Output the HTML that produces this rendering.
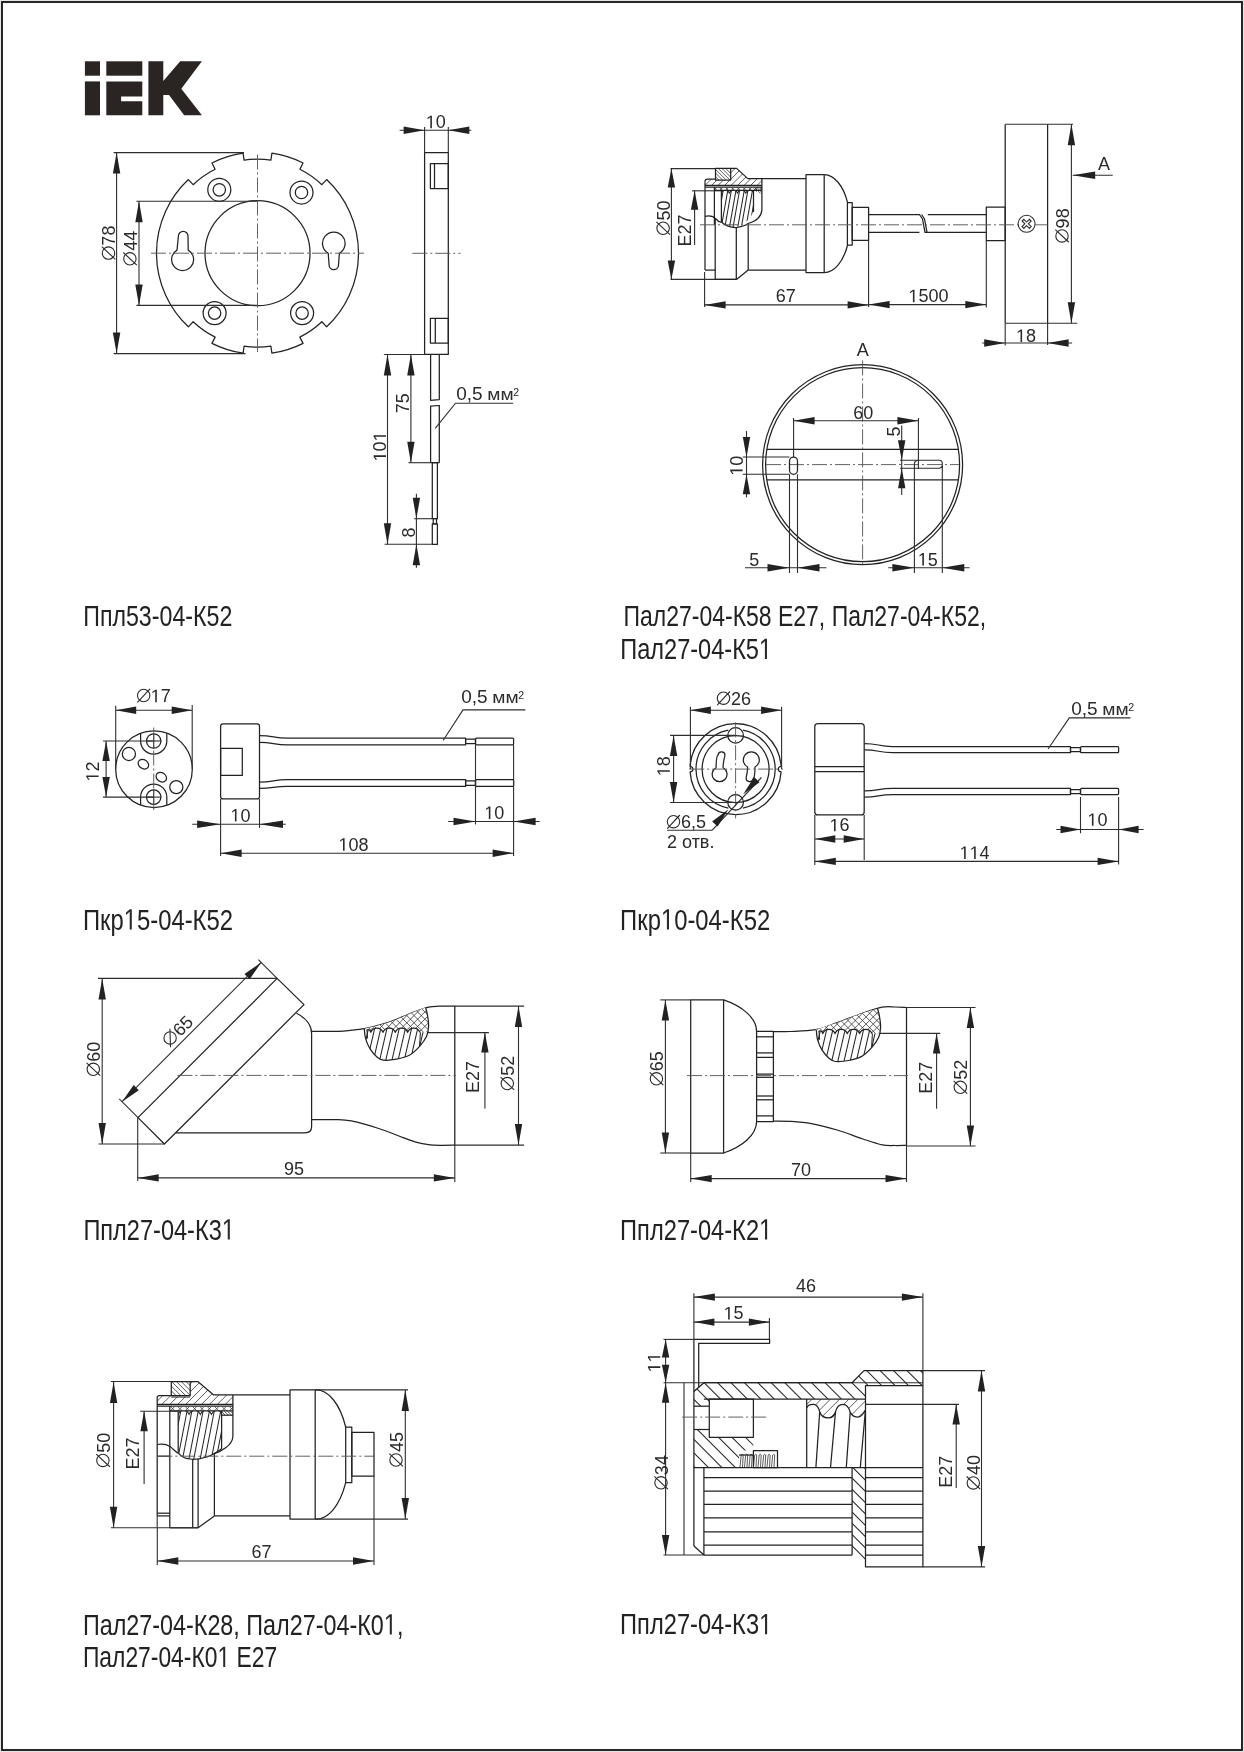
<!DOCTYPE html>
<html><head><meta charset="utf-8"><style>
html,body{margin:0;padding:0;background:#fff;}
body{width:1244px;height:1752px;overflow:hidden;position:relative;}
svg{position:absolute;left:0;top:0;will-change:transform;}
.o{fill:none;stroke:#222;stroke-width:1.25;stroke-linejoin:round;}
.d{fill:none;stroke:#2e2e2e;stroke-width:1.1;}
.c{fill:none;stroke:#5a5a5a;stroke-width:0.95;stroke-dasharray:15 3 2 3;}
.h{fill:none;stroke:#333;stroke-width:0.8;}
.ar{fill:#222;stroke:none;}
.ds{fill:none;stroke:#2a2a2a;stroke-width:1.1;}
.th{fill:none;stroke:#262626;stroke-width:1.05;}
.tf{fill:#2a2a2a;stroke:none;}
.t{fill:#2a2a2a;font-family:"Liberation Sans",sans-serif;}
.lab{fill:#222;font-family:"Liberation Sans",sans-serif;}
</style></head><body>
<svg width="1244" height="1752" viewBox="0 0 1244 1752">
<rect x="0" y="0" width="1244" height="1752" fill="#e4e4e4"/>
<rect x="1" y="1" width="1242" height="1750" fill="#fff"/>
<rect x="2" y="2" width="1240" height="1748" fill="none" stroke="#1c1c1c" stroke-width="1.9"/>
<g fill="#2a2523">
<rect x="84.9" y="61.3" width="15.1" height="14.4"/>
<rect x="84.9" y="81.4" width="15.1" height="33.9"/>
<rect x="106.3" y="61.3" width="36" height="14.4"/>
<path d="M106.3,81.4 H142.3 V96.4 H121.1 V101.2 H142.3 V115.3 H106.3 Z"/>
<path d="M148.4,61.3 H163.3 V81 L180.2,61.3 H201.9 L181.3,88.8 L201.9,115.3 H184.2 L169,95 H163.3 V115.3 H148.4 Z"/>
</g>
<path class="o" d="M326.64,179.57 L321.85,184.68 A94,94 0 0 0 299.88,169.3 L303.04,163.05 A101,101 0 0 0 271.91,153.23 L270.91,160.16 A94,94 0 0 0 244.09,160.16 L243.09,153.23 A101,101 0 0 0 211.96,163.05 L215.12,169.3 A94,94 0 0 0 193.15,184.68 L188.36,179.57 A101,101 0 0 0 188.36,326.83 L193.15,321.72 A94,94 0 0 0 215.12,337.1 L211.96,343.35 A101,101 0 0 0 243.09,353.17 L244.09,346.24 A94,94 0 0 0 270.91,346.24 L271.91,353.17 A101,101 0 0 0 303.04,343.35 L299.88,337.1 A94,94 0 0 0 321.85,321.72 L326.64,326.83 A101,101 0 0 0 326.64,179.57 Z"/>
<circle class="o" cx="257.5" cy="253.2" r="52.5"/>
<circle class="o" cx="219.3" cy="189.8" r="11.5"/>
<circle class="o" cx="219.3" cy="189.8" r="6.2"/>
<circle class="o" cx="301.5" cy="192.5" r="11.5"/>
<circle class="o" cx="301.5" cy="192.5" r="6.2"/>
<circle class="o" cx="214.6" cy="313.1" r="11.5"/>
<circle class="o" cx="214.6" cy="313.1" r="6.2"/>
<circle class="o" cx="302.1" cy="313.1" r="11.5"/>
<circle class="o" cx="302.1" cy="313.1" r="6.2"/>
<path class="o" d="M177,250.13 L178.4,236.2 A4.8,4.8 0 0 1 188,236.2 L188.2,250.13 A11,11 0 1 1 177,250.13 Z"/>
<path class="o" d="M339.4,253.21 L338.5,265.0 A4.7,4.7 0 0 1 329.1,265.0 L328.2,253.21 A11.3,11.3 0 1 1 339.4,253.21 Z"/>
<line class="c" x1="151" y1="253.2" x2="364" y2="253.2"/>
<line class="c" x1="257.5" y1="154.5" x2="257.5" y2="352"/>
<line class="d" x1="113.6" y1="152.6" x2="244" y2="152.6"/>
<line class="d" x1="113.6" y1="353.6" x2="245.5" y2="353.6"/>
<line class="d" x1="116.6" y1="152.6" x2="116.6" y2="353.6"/>
<polygon class="ar" points="116.6,152.6 120.3,173.6 112.9,173.6"/>
<polygon class="ar" points="116.6,353.6 112.9,332.6 120.3,332.6"/>
<line class="d" x1="136.4" y1="201.2" x2="257" y2="201.2"/>
<line class="d" x1="136.4" y1="305.4" x2="257" y2="305.4"/>
<line class="d" x1="139" y1="201.2" x2="139" y2="305.4"/>
<polygon class="ar" points="139,201.2 142.7,222.2 135.3,222.2"/>
<polygon class="ar" points="139,305.4 135.3,284.4 142.7,284.4"/>
<g transform="translate(115.2,243) rotate(-90)">
<circle class="ds" cx="-10.11" cy="-6.7" r="6.2"/>
<line class="ds" x1="-16.41" y1="0.2" x2="-3.71" y2="-13.4"/>
<text class="t" x="-2.63" y="0" font-size="18">78</text>
</g>
<g transform="translate(136.6,248.3) rotate(-90)">
<circle class="ds" cx="-10.49" cy="-6.7" r="6.2"/>
<line class="ds" x1="-16.79" y1="0.2" x2="-4.09" y2="-13.4"/>
<text class="t" x="-2.5" y="0" font-size="18">44</text>
</g>
<rect class="o" x="424.6" y="152.5" width="23.7" height="201.9"/>
<rect class="o" x="430.4" y="163.6" width="17.9" height="24.9"/>
<line class="o" x1="434.5" y1="163.6" x2="434.5" y2="188.5"/>
<rect class="o" x="430.4" y="318.3" width="17.9" height="24.8"/>
<line class="o" x1="435.3" y1="318.3" x2="435.3" y2="343.1"/>
<line class="c" x1="412.3" y1="253.3" x2="460.5" y2="253.3"/>
<line class="d" x1="424.6" y1="127" x2="424.6" y2="152.5"/>
<line class="d" x1="448.3" y1="127" x2="448.3" y2="152.5"/>
<line class="d" x1="399.6" y1="130.2" x2="471.3" y2="130.2"/>
<polygon class="ar" points="424.6,130.2 403.6,133.9 403.6,126.5"/>
<polygon class="ar" points="448.3,130.2 469.3,126.5 469.3,133.9"/>
<g transform="translate(435.8,128.2) rotate(0)"><path class="tf" d="M-5.48,0 L-5.48,-10.87 L-8.28,-8.88 L-8.28,-10.37 L-5.35,-12.38 L-3.89,-12.38 L-3.89,0 Z"/><text class="t" x="0" y="0" font-size="18">0</text></g>
<polyline class="o" points="430.6,354.4 430.6,400.3 439.3,399.6 439.3,354.4"/>
<polyline class="o" points="430.6,462.7 430.6,406.2 439.3,405.5 439.3,462.7"/>
<line class="o" x1="430.6" y1="462.7" x2="439.3" y2="462.7"/>
<rect class="o" x="432.3" y="462.7" width="5.1" height="56"/>
<rect class="o" x="433.2" y="518.7" width="3.3" height="5.1"/>
<rect class="o" x="432.3" y="523.8" width="5.1" height="20.5"/>
<line class="d" x1="383.9" y1="354.5" x2="424.6" y2="354.5"/>
<line class="d" x1="387.5" y1="354.5" x2="387.5" y2="544.3"/>
<polygon class="ar" points="387.5,354.5 391.2,375.5 383.8,375.5"/>
<polygon class="ar" points="387.5,544.3 383.8,523.3 391.2,523.3"/>
<line class="d" x1="384.6" y1="544.3" x2="432.3" y2="544.3"/>
<line class="d" x1="410.9" y1="354.5" x2="410.9" y2="462.7"/>
<polygon class="ar" points="410.9,354.5 414.6,375.5 407.2,375.5"/>
<polygon class="ar" points="410.9,462.7 407.2,441.7 414.6,441.7"/>
<line class="d" x1="408.5" y1="462.7" x2="430.6" y2="462.7"/>
<line class="d" x1="414.3" y1="518.7" x2="432.3" y2="518.7"/>
<line class="d" x1="416.4" y1="493.7" x2="416.4" y2="567.8"/>
<polygon class="ar" points="416.4,518.7 412.7,497.7 420.1,497.7"/>
<polygon class="ar" points="416.4,544.3 420.1,565.3 412.7,565.3"/>
<g transform="translate(386,446.4) rotate(-90)"><path class="tf" d="M-10.49,0 L-10.49,-10.87 L-13.28,-8.88 L-13.28,-10.37 L-10.36,-12.38 L-8.9,-12.38 L-8.9,0 Z"/><text class="t" x="-5.01" y="0" font-size="18">0</text><path class="tf" d="M9.53,0 L9.53,-10.87 L6.74,-8.88 L6.74,-10.37 L9.66,-12.38 L11.12,-12.38 L11.12,0 Z"/></g>
<text class="t" transform="translate(408.5,403.3) rotate(-90)" font-size="18" text-anchor="middle">75</text>
<text class="t" transform="translate(414.7,532.4) rotate(-90)" font-size="18" text-anchor="middle">8</text>
<polyline class="d" points="435.2,428.3 455.5,403.2 513.1,403.2"/>
<text class="t" x="456.26" y="399.7" font-size="19">0,5</text>
<text class="t" transform="translate(487.27,399.7) scale(1.1,1)" font-size="17.4">мм</text>
<text class="t" x="513.3" y="395.6" font-size="10.5">2</text>
<line class="d" x1="670.5" y1="168.6" x2="715.5" y2="168.6"/>
<line class="d" x1="670.5" y1="279.4" x2="736.5" y2="279.4"/>
<line class="d" x1="671.4" y1="168.6" x2="671.4" y2="279.4"/>
<polygon class="ar" points="671.4,168.6 675.1,187.6 667.7,187.6"/>
<polygon class="ar" points="671.4,279.4 667.7,260.4 675.1,260.4"/>
<line class="d" x1="692" y1="190.8" x2="721.4" y2="190.8"/>
<line class="d" x1="694.6" y1="190.8" x2="694.6" y2="245"/>
<polygon class="ar" points="694.6,190.8 698.3,209.8 690.9,209.8"/>
<g transform="translate(669.8,218) rotate(-90)">
<circle class="ds" cx="-10.25" cy="-6.7" r="6.2"/>
<line class="ds" x1="-16.55" y1="0.2" x2="-3.85" y2="-13.4"/>
<text class="t" x="-2.57" y="0" font-size="18">50</text>
</g>
<text class="t" transform="translate(691.2,230.5) rotate(-90)" font-size="18" text-anchor="middle">E27</text>
<clipPath id="h2a"><path d="M705,185.4 L705,181.5 Q705,179.1 707.5,179.1 L715.5,179.1 L715.5,180 L730.7,180 L730.7,168.4 L736.6,168.4 L747.8,178.6 L761.9,178.6 L761.9,185.4 Z"/></clipPath>
<g clip-path="url(#h2a)">
<path class="h" d="M680.43,177.5L732.5,125.43M683.68,180.75L735.75,128.68M686.93,184.01L739.01,131.93M690.19,187.26L742.26,135.19M693.44,190.51L745.51,138.44M696.69,193.76L748.76,141.69M699.94,197.02L752.02,144.94M703.2,200.27L755.27,148.2M706.45,203.52L758.52,151.45M709.7,206.77L761.77,154.7M712.95,210.03L765.03,157.95M716.21,213.28L768.28,161.21M719.46,216.53L771.53,164.46M722.71,219.78L774.78,167.71M725.96,223.04L778.04,170.96M729.22,226.29L781.29,174.22M732.47,229.54L784.54,177.47"/>
</g>
<clipPath id="h2b"><path d="M715.5,168.4 L730.7,168.4 L730.7,180 L715.5,180 Z"/></clipPath>
<g clip-path="url(#h2b)">
<path class="h" d="M723,151.07L745.93,174M721.16,152.91L744.09,175.84M719.32,154.75L742.25,177.68M717.48,156.59L740.41,179.52M715.65,158.43L738.57,181.35M713.81,160.26L736.74,183.19M711.97,162.1L734.9,185.03M710.13,163.94L733.06,186.87M708.29,165.78L731.22,188.71M706.45,167.62L729.38,190.55M704.62,169.46L727.54,192.38M702.78,171.3L725.7,194.22M700.94,173.13L723.87,196.06"/>
</g>
<clipPath id="h2c"><path d="M714.4,187.2 L761.9,187.2 L761.9,190.4 L714.4,190.4 Z"/></clipPath>
<g clip-path="url(#h2c)">
<path class="h" d="M738.5,148.27L779.23,189M735.6,151.17L776.33,191.9M732.7,154.07L773.43,194.8M729.8,156.97L770.53,197.7M726.9,159.87L767.63,200.6M724,162.77L764.73,203.5M721.11,165.67L761.83,206.39M718.21,168.56L758.94,209.29M715.31,171.46L756.04,212.19M712.41,174.36L753.14,215.09M709.51,177.26L750.24,217.99M706.61,180.16L747.34,220.89M703.71,183.06L744.44,223.79M700.81,185.96L741.54,226.69M697.91,188.86L738.64,229.59"/>
</g>
<clipPath id="h2c2"><path d="M714.4,187.2 L761.9,187.2 L761.9,190.4 L714.4,190.4 Z"/></clipPath>
<g clip-path="url(#h2c2)">
<path class="h" d="M697.77,189L738.5,148.27M700.67,191.9L741.4,151.17M703.57,194.8L744.3,154.07M706.47,197.7L747.2,156.97M709.37,200.6L750.1,159.87M712.27,203.5L753,162.77M715.17,206.39L755.89,165.67M718.06,209.29L758.79,168.56M720.96,212.19L761.69,171.46M723.86,215.09L764.59,174.36M726.76,217.99L767.49,177.26M729.66,220.89L770.39,180.16M732.56,223.79L773.29,183.06M735.46,226.69L776.19,185.96M738.36,229.59L779.09,188.86"/>
</g>
<clipPath id="h2e"><path d="M753.5,187.2 L761.9,187.2 L761.9,194 L753.5,190.4 Z"/></clipPath>
<g clip-path="url(#h2e)">
<path class="h" d="M757.5,174.52L773.48,190.5M756.37,175.65L772.35,191.63M755.24,176.78L771.22,192.76M754.11,177.91L770.09,193.89M752.97,179.04L768.96,195.03M751.84,180.18L767.82,196.16M750.71,181.31L766.69,197.29M749.58,182.44L765.56,198.42M748.45,183.57L764.43,199.55M747.32,184.7L763.3,200.68M746.19,185.83L762.17,201.81M745.05,186.96L761.04,202.95M743.92,188.1L759.9,204.08M742.79,189.23L758.77,205.21M741.66,190.36L757.64,206.34"/>
</g>
<clipPath id="t2"><path d="M721.4,190.4 L753.5,190.4 L753.5,212 Q745,227.5 733,227.2 Q725,226 721.4,222 Z"/></clipPath><g clip-path="url(#t2)">
<path class="th" d="M719.65,189.99L712.35,231.35M723.25,189.99L715.95,231.35M727.85,189.99L720.55,231.35M731.45,189.99L724.15,231.35M736.05,189.99L728.75,231.35M739.65,189.99L732.35,231.35M744.35,189.99L737.05,231.35M747.95,189.99L740.65,231.35M752.55,189.99L745.25,231.35M756.15,189.99L748.85,231.35"/>
<path class="th" d="M718.22,190.4 Q720.2,190.92 721.1,193 Q722,190.92 723.98,190.4 M726.42,190.4 Q728.4,190.92 729.3,193 Q730.2,190.92 732.18,190.4 M734.62,190.4 Q736.6,190.92 737.5,193 Q738.4,190.92 740.38,190.4 M742.92,190.4 Q744.9,190.92 745.8,193 Q746.7,190.92 748.68,190.4 M751.12,190.4 Q753.1,190.92 754,193 Q754.9,190.92 756.88,190.4 "/>
</g>
<polyline class="o" points="705,270.1 705,181.5"/>
<path class="o" d="M705,181.5 Q705,179.1 707.5,179.1 L715.5,179.1"/>
<rect class="o" x="715.5" y="168.4" width="15.2" height="11.6"/>
<polyline class="o" points="730.7,168.4 736.6,168.4 747.8,178.6 806,178.6"/>
<line class="o" x1="705" y1="185.4" x2="761.9" y2="185.4"/>
<line class="o" x1="705" y1="187" x2="761.9" y2="187"/>
<line class="o" x1="714.4" y1="187" x2="714.4" y2="225"/>
<line class="o" x1="714.4" y1="190.4" x2="761.9" y2="190.4"/>
<path class="o" d="M761.9,178.6 L761.9,210 Q761,220 748,223.5"/>
<path class="o" d="M721.4,190.4 L721.4,222 Q728,228 737,227.5 Q745,226 748,223.5"/>
<line class="o" x1="753.5" y1="190.4" x2="753.5" y2="212"/>
<path class="o" d="M705,216.3 Q712,214.5 716,219 Q719,222.5 721.4,222"/>
<line class="o" x1="715.2" y1="219" x2="715.2" y2="279.4"/>
<line class="o" x1="736.3" y1="227.3" x2="736.3" y2="279.4"/>
<line class="o" x1="748.2" y1="223.5" x2="748.2" y2="270.1"/>
<line class="o" x1="705" y1="270.1" x2="715.2" y2="270.1"/>
<line class="o" x1="715.2" y1="279.4" x2="736.5" y2="279.4"/>
<line class="o" x1="736.5" y1="279.4" x2="748.2" y2="270.1"/>
<line class="o" x1="748.2" y1="270.1" x2="806" y2="270.1"/>
<rect class="o" x="806" y="174.6" width="18.2" height="98"/>
<path class="o" d="M824.2,174.6 A26,49 0 0 1 847.6,202.6"/>
<path class="o" d="M824.2,272.6 A26,49 0 0 0 847.6,245"/>
<rect class="o" x="847.4" y="202.6" width="4.8" height="42.4"/>
<rect class="o" x="852.2" y="207.4" width="16.4" height="33"/>
<polyline class="o" points="868.6,214.5 919.4,214.5 922.5,219 925,232.3 986.3,232.3"/>
<polyline class="o" points="868.6,232.3 919.4,232.3"/>
<polyline class="o" points="921.6,214.5 924.5,219 927,232.3"/>
<line class="o" x1="927.8" y1="214.5" x2="986.3" y2="214.5"/>
<rect class="o" x="986.3" y="207.2" width="18.9" height="33.4"/>
<line class="o" x1="1005.2" y1="124.2" x2="1005.2" y2="323.2"/>
<line class="o" x1="1047.6" y1="124.2" x2="1047.6" y2="323.2"/>
<circle class="d" cx="1026.6" cy="223.8" r="8.5"/>
<path class="d" d="M1026.60,225.57 L1029.39,228.36 L1031.16,226.59 L1028.37,223.80 L1031.16,221.01 L1029.39,219.24 L1026.60,222.03 L1023.81,219.24 L1022.04,221.01 L1024.83,223.80 L1022.04,226.59 L1023.81,228.36 Z"/>
<line class="c" x1="700" y1="224.8" x2="1018.2" y2="224.8"/>
<line class="c" x1="1035" y1="224.8" x2="1047.6" y2="224.8"/>
<line class="d" x1="704.6" y1="272" x2="704.6" y2="307"/>
<line class="d" x1="868.6" y1="241" x2="868.6" y2="307"/>
<line class="d" x1="704.6" y1="304.9" x2="868.6" y2="304.9"/>
<polygon class="ar" points="704.6,304.9 725.6,301.2 725.6,308.6"/>
<polygon class="ar" points="868.6,304.9 847.6,308.6 847.6,301.2"/>
<line class="d" x1="986.3" y1="241" x2="986.3" y2="307.5"/>
<line class="d" x1="868.6" y1="304.6" x2="986.3" y2="304.6"/>
<polygon class="ar" points="868.6,304.6 889.6,300.9 889.6,308.3"/>
<polygon class="ar" points="986.3,304.6 965.3,308.3 965.3,300.9"/>
<text class="t" x="785.8" y="302" font-size="18" text-anchor="middle">67</text>
<g transform="translate(928.4,302.2) rotate(0)"><path class="tf" d="M-15.5,0 L-15.5,-10.87 L-18.29,-8.88 L-18.29,-10.37 L-15.36,-12.38 L-13.9,-12.38 L-13.9,0 Z"/><text class="t" x="-10.01" y="0" font-size="18">500</text></g>
<line class="d" x1="1005.2" y1="124.2" x2="1073" y2="124.2"/>
<line class="d" x1="1005.2" y1="323.2" x2="1077.2" y2="323.2"/>
<line class="d" x1="1071.4" y1="124.2" x2="1071.4" y2="323.2"/>
<polygon class="ar" points="1071.4,124.2 1075.1,145.2 1067.7,145.2"/>
<polygon class="ar" points="1071.4,323.2 1067.7,302.2 1075.1,302.2"/>
<g transform="translate(1068.7,225.8) rotate(-90)">
<circle class="ds" cx="-10.15" cy="-6.7" r="6.2"/>
<line class="ds" x1="-16.45" y1="0.2" x2="-3.75" y2="-13.4"/>
<text class="t" x="-2.59" y="0" font-size="18">98</text>
</g>
<line class="d" x1="1005.2" y1="323.2" x2="1005.2" y2="345.5"/>
<line class="d" x1="1047.6" y1="323.2" x2="1047.6" y2="345"/>
<line class="d" x1="982.2" y1="343" x2="1072.1" y2="343"/>
<polygon class="ar" points="1005.2,343 984.2,346.7 984.2,339.3"/>
<polygon class="ar" points="1047.6,343 1068.6,339.3 1068.6,346.7"/>
<g transform="translate(1026,342) rotate(0)"><path class="tf" d="M-5.48,0 L-5.48,-10.87 L-8.28,-8.88 L-8.28,-10.37 L-5.35,-12.38 L-3.89,-12.38 L-3.89,0 Z"/><text class="t" x="0" y="0" font-size="18">8</text></g>
<line class="d" x1="1072.7" y1="175.3" x2="1112.7" y2="175.3"/>
<polygon class="ar" points="1072.7,175.3 1095.2,171.55 1095.2,179.05"/>
<text class="t" x="1104" y="169.6" font-size="18" text-anchor="middle">A</text>
<circle class="o" cx="862.6" cy="464.7" r="100"/>
<circle class="o" cx="862.6" cy="464.7" r="97"/>
<line class="o" x1="766.7" y1="449.4" x2="958.4" y2="449.4"/>
<line class="o" x1="766.7" y1="479.8" x2="958.4" y2="479.8"/>
<line class="c" x1="766" y1="464.6" x2="959" y2="464.6"/>
<line class="c" x1="862.6" y1="360.4" x2="862.6" y2="566.6"/>
<rect class="o" x="789.5" y="457" width="8" height="17.3" rx="4"/>
<path class="d" d="M900,460.2 L939.3,460.2 Q942.3,460.4 942.3,463.6 L942.3,468 M900,468.3 L939.3,468.3 Q941.5,468 942.3,466"/>
<path class="d" d="M914.4,573 L914.4,463.5 Q914.8,460.6 917.6,460.2"/>
<text class="t" x="862.7" y="355.6" font-size="18" text-anchor="middle">A</text>
<line class="d" x1="793.6" y1="418" x2="793.6" y2="457"/>
<line class="d" x1="918.4" y1="418" x2="918.4" y2="469"/>
<line class="d" x1="793.6" y1="420.7" x2="918.4" y2="420.7"/>
<polygon class="ar" points="793.6,420.7 814.6,417 814.6,424.4"/>
<polygon class="ar" points="918.4,420.7 897.4,424.4 897.4,417"/>
<text class="t" x="863.3" y="419" font-size="18" text-anchor="middle">60</text>
<line class="d" x1="742.8" y1="457" x2="789.5" y2="457"/>
<line class="d" x1="742.8" y1="474.3" x2="789.5" y2="474.3"/>
<line class="d" x1="746.5" y1="431" x2="746.5" y2="497.3"/>
<polygon class="ar" points="746.5,457 742.8,437 750.2,437"/>
<polygon class="ar" points="746.5,474.3 750.2,494.3 742.8,494.3"/>
<g transform="translate(742.6,465.7) rotate(-90)"><path class="tf" d="M-5.48,0 L-5.48,-10.87 L-8.28,-8.88 L-8.28,-10.37 L-5.35,-12.38 L-3.89,-12.38 L-3.89,0 Z"/><text class="t" x="0" y="0" font-size="18">0</text></g>
<line class="d" x1="901.7" y1="425.5" x2="901.7" y2="495"/>
<polygon class="ar" points="901.7,460.2 898,440.2 905.4,440.2"/>
<polygon class="ar" points="901.7,468.3 905.4,488.3 898,488.3"/>
<text class="t" transform="translate(900,431.5) rotate(-90)" font-size="18" text-anchor="middle">5</text>
<line class="d" x1="789.5" y1="474.3" x2="789.5" y2="573"/>
<line class="d" x1="797.5" y1="474.3" x2="797.5" y2="573"/>
<line class="d" x1="745" y1="567.7" x2="826.4" y2="567.7"/>
<polygon class="ar" points="789.5,567.7 767.5,571.4 767.5,564"/>
<polygon class="ar" points="797.5,567.7 819.5,564 819.5,571.4"/>
<text class="t" x="754.2" y="565.5" font-size="18" text-anchor="middle">5</text>
<line class="d" x1="942.3" y1="466" x2="942.3" y2="573"/>
<line class="d" x1="888.2" y1="567.7" x2="969.6" y2="567.7"/>
<polygon class="ar" points="914.4,567.7 892.4,571.4 892.4,564"/>
<polygon class="ar" points="942.3,567.7 964.3,564 964.3,571.4"/>
<g transform="translate(927.8,565.5) rotate(0)"><path class="tf" d="M-5.48,0 L-5.48,-10.87 L-8.28,-8.88 L-8.28,-10.37 L-5.35,-12.38 L-3.89,-12.38 L-3.89,0 Z"/><text class="t" x="0" y="0" font-size="18">5</text></g>
<circle class="o" cx="154" cy="769.2" r="38.3"/>
<circle class="o" cx="153.7" cy="741" r="7.2"/>
<line class="d" x1="146" y1="741" x2="161.4" y2="741"/>
<line class="d" x1="153.7" y1="733.5" x2="153.7" y2="748.5"/>
<path class="o" d="M140.6,733.21 L140.6,741 A13.1,13.1 0 0 0 166.8,741 L166.8,733.21"/>
<circle class="o" cx="153.7" cy="797.1" r="7.2"/>
<line class="d" x1="146" y1="797.1" x2="161.4" y2="797.1"/>
<line class="d" x1="153.7" y1="789.6" x2="153.7" y2="804.6"/>
<path class="o" d="M140.6,805.19 L140.6,797.1 A13.1,13.1 0 0 1 166.8,797.1 L166.8,805.19"/>
<circle class="o" cx="128.9" cy="754" r="6.6"/>
<circle class="o" cx="176.3" cy="787.1" r="6.6"/>
<ellipse class="o" cx="143.4" cy="764.2" rx="5.6" ry="4.4" transform="rotate(35 143.4 764.2)"/>
<ellipse class="o" cx="161.3" cy="777.2" rx="5.6" ry="4.4" transform="rotate(35 161.3 777.2)"/>
<line class="c" x1="153.7" y1="727.5" x2="153.7" y2="810"/>
<line class="d" x1="115.7" y1="705.7" x2="115.7" y2="769"/>
<line class="d" x1="192.2" y1="705" x2="192.2" y2="769"/>
<line class="d" x1="115.7" y1="710.3" x2="192.2" y2="710.3"/>
<polygon class="ar" points="115.7,710.3 136.2,706.6 136.2,714"/>
<polygon class="ar" points="192.2,710.3 171.7,714 171.7,706.6"/>
<g transform="translate(153.5,702.2) rotate(0)">
<circle class="ds" cx="-9.82" cy="-6.7" r="6.2"/>
<line class="ds" x1="-16.12" y1="0.2" x2="-3.42" y2="-13.4"/>
<path class="tf" d="M1.73,0 L1.73,-10.87 L-1.06,-8.88 L-1.06,-10.37 L1.86,-12.38 L3.32,-12.38 L3.32,0 Z"/><text class="t" x="7.22" y="0" font-size="18">7</text>
</g>
<line class="d" x1="103" y1="741" x2="153.7" y2="741"/>
<line class="d" x1="103" y1="797.1" x2="153.7" y2="797.1"/>
<line class="d" x1="106.1" y1="741" x2="106.1" y2="797.1"/>
<polygon class="ar" points="106.1,741 109.8,761 102.4,761"/>
<polygon class="ar" points="106.1,797.1 102.4,777.1 109.8,777.1"/>
<g transform="translate(98.6,771.5) rotate(-90)"><path class="tf" d="M-5.48,0 L-5.48,-10.87 L-8.28,-8.88 L-8.28,-10.37 L-5.35,-12.38 L-3.89,-12.38 L-3.89,0 Z"/><text class="t" x="0" y="0" font-size="18">2</text></g>
<rect class="o" x="220.6" y="723.8" width="38.9" height="75.1" rx="2.5"/>
<rect class="o" x="220.6" y="748.3" width="21.7" height="27.1"/>
<path class="o" d="M259.5,735.6 C273.5,735.6 273.4,738 287.4,738 L465.6,738 L465.6,744.8 L287.4,744.8 C273.4,744.8 273.5,742.3 259.5,742.3"/>
<rect class="o" x="465.6" y="739.1" width="9.9" height="4.6"/>
<rect class="o" x="475.5" y="738" width="38.1" height="6.8" rx="1"/>
<path class="o" d="M259.5,782.2 C273.5,782.2 273.4,779.7 287.4,779.7 L465.6,779.7 L465.6,786.4 L287.4,786.4 C273.4,786.4 273.5,788.4 259.5,788.4"/>
<rect class="o" x="465.6" y="780.8" width="9.9" height="4.5"/>
<rect class="o" x="475.5" y="779.7" width="38.1" height="6.7" rx="1"/>
<polyline class="d" points="443.1,740.5 463,709.9 525.4,709.9"/>
<text class="t" x="461.26" y="703.2" font-size="19">0,5</text>
<text class="t" transform="translate(492.27,703.2) scale(1.1,1)" font-size="17.4">мм</text>
<text class="t" x="518.3" y="699.1" font-size="10.5">2</text>
<line class="d" x1="220.6" y1="798.9" x2="220.6" y2="856"/>
<line class="d" x1="259.5" y1="798.9" x2="259.5" y2="828"/>
<line class="d" x1="192.2" y1="824.2" x2="285.7" y2="824.2"/>
<polygon class="ar" points="220.6,824.2 197.1,827.9 197.1,820.5"/>
<polygon class="ar" points="259.5,824.2 283,820.5 283,827.9"/>
<g transform="translate(240.4,821.5) rotate(0)"><path class="tf" d="M-5.48,0 L-5.48,-10.87 L-8.28,-8.88 L-8.28,-10.37 L-5.35,-12.38 L-3.89,-12.38 L-3.89,0 Z"/><text class="t" x="0" y="0" font-size="18">0</text></g>
<line class="d" x1="475.5" y1="745" x2="475.5" y2="824.5"/>
<line class="d" x1="513.6" y1="745" x2="513.6" y2="856"/>
<line class="d" x1="448.1" y1="821.5" x2="539.6" y2="821.5"/>
<polygon class="ar" points="475.5,821.5 453.5,825.2 453.5,817.8"/>
<polygon class="ar" points="513.6,821.5 535.6,817.8 535.6,825.2"/>
<g transform="translate(494.3,819) rotate(0)"><path class="tf" d="M-5.48,0 L-5.48,-10.87 L-8.28,-8.88 L-8.28,-10.37 L-5.35,-12.38 L-3.89,-12.38 L-3.89,0 Z"/><text class="t" x="0" y="0" font-size="18">0</text></g>
<line class="d" x1="220.6" y1="853.2" x2="513.6" y2="853.2"/>
<polygon class="ar" points="220.6,853.2 241.6,849.5 241.6,856.9"/>
<polygon class="ar" points="513.6,853.2 492.6,856.9 492.6,849.5"/>
<g transform="translate(353.5,850.7) rotate(0)"><path class="tf" d="M-10.49,0 L-10.49,-10.87 L-13.28,-8.88 L-13.28,-10.37 L-10.36,-12.38 L-8.9,-12.38 L-8.9,0 Z"/><text class="t" x="-5.01" y="0" font-size="18">08</text></g>
<path class="o" d="M781.11,766.3 A45.6,45.6 0 0 0 690.09,766.3 A2.8,2.8 0 0 1 690.09,771.9 A45.6,45.6 0 0 0 781.11,771.9 A2.8,2.8 0 0 1 781.11,766.3 Z"/>
<path class="o" d="M742.9,730.18 A39.6,39.6 0 0 1 742.9,808.02 M728.3,808.02 A39.6,39.6 0 0 1 728.3,730.18"/>
<circle class="o" cx="735.6" cy="769.1" r="33.5"/>
<circle class="o" cx="735.6" cy="735.4" r="7.8"/>
<circle class="o" cx="735.6" cy="802.4" r="7.8"/>
<path class="o" d="M716.1,767.78 C716.1,761.78 716.6,756 718.1,755 A3.3,3.3 0 0 1 724.9,755.5 C724.1,760 723.1,761.78 723.1,767.78 A7.4,7.4 0 1 1 716.1,767.78 Z"/>
<path class="o" d="M755,766.99 C755,772.99 754.5,778 753,779 A3.5,3.5 0 0 1 746.1,778 C746.6,774 747.6,772.99 747.6,766.99 A8,8 0 1 1 755,766.99 Z"/>
<line class="c" x1="735.6" y1="722.2" x2="735.6" y2="818.4"/>
<line class="c" x1="689.2" y1="769.1" x2="782.9" y2="769.1"/>
<line class="d" x1="690.4" y1="706.8" x2="690.4" y2="769"/>
<line class="d" x1="781.6" y1="706.8" x2="781.6" y2="769"/>
<line class="d" x1="690.4" y1="710.3" x2="781.6" y2="710.3"/>
<polygon class="ar" points="690.4,710.3 710.9,706.6 710.9,714"/>
<polygon class="ar" points="781.6,710.3 761.1,714 761.1,706.6"/>
<g transform="translate(733.6,704.9) rotate(0)">
<circle class="ds" cx="-10.11" cy="-6.7" r="6.2"/>
<line class="ds" x1="-16.41" y1="0.2" x2="-3.71" y2="-13.4"/>
<text class="t" x="-2.62" y="0" font-size="18">26</text>
</g>
<line class="d" x1="670.1" y1="735.4" x2="735.6" y2="735.4"/>
<line class="d" x1="670.1" y1="802.5" x2="735.6" y2="802.5"/>
<line class="d" x1="673.6" y1="735.4" x2="673.6" y2="802.5"/>
<polygon class="ar" points="673.6,735.4 677.3,755.9 669.9,755.9"/>
<polygon class="ar" points="673.6,802.5 669.9,782 677.3,782"/>
<g transform="translate(669.8,766.3) rotate(-90)"><path class="tf" d="M-5.48,0 L-5.48,-10.87 L-8.28,-8.88 L-8.28,-10.37 L-5.35,-12.38 L-3.89,-12.38 L-3.89,0 Z"/><text class="t" x="0" y="0" font-size="18">8</text></g>
<line class="d" x1="761.4" y1="777.5" x2="712" y2="830.3"/>
<polygon class="ar" points="743.2,794.3 754.09,777.11 759.58,782.22"/>
<polygon class="ar" points="728.5,809.3 717.61,826.49 712.12,821.38"/>
<line class="d" x1="667.2" y1="830.3" x2="712" y2="830.3"/>
<g transform="translate(667,828.4) rotate(0)">
<circle class="ds" cx="6.5" cy="-6.7" r="6.2"/>
<line class="ds" x1="0.2" y1="0.2" x2="12.9" y2="-13.4"/>
<text class="t" x="13.99" y="0" font-size="18">6,5</text>
</g>
<text class="t" x="667" y="847.7" font-size="18" text-anchor="start">2 отв.</text>
<rect class="o" x="814.8" y="723.6" width="49.4" height="91.3" rx="3"/>
<line class="o" x1="814.8" y1="766.6" x2="864.2" y2="766.6"/>
<line class="o" x1="814.8" y1="771.5" x2="864.2" y2="771.5"/>
<path class="o" d="M864.5,743.5 C878.5,743.5 878.4,746.5 892.4,746.5 L1070.5,746.5 L1070.5,752.7 L892.4,752.7 C878.4,752.7 878.5,749.8 864.5,749.8"/>
<rect class="o" x="1070.5" y="747.6" width="10" height="4"/>
<rect class="o" x="1080.5" y="746.5" width="38.1" height="6.2" rx="1"/>
<path class="o" d="M864.5,790.9 C878.5,790.9 878.4,788.4 892.4,788.4 L1070.5,788.4 L1070.5,794.6 L892.4,794.6 C878.4,794.6 878.5,797.1 864.5,797.1"/>
<rect class="o" x="1070.5" y="789.5" width="10" height="4"/>
<rect class="o" x="1080.5" y="788.4" width="38.1" height="6.2" rx="1"/>
<polyline class="d" points="1048.1,749 1069.3,717.9 1130.4,717.9"/>
<text class="t" x="1071.26" y="714.6" font-size="19">0,5</text>
<text class="t" transform="translate(1102.27,714.6) scale(1.1,1)" font-size="17.4">мм</text>
<text class="t" x="1128.3" y="710.5" font-size="10.5">2</text>
<line class="d" x1="814.8" y1="814.9" x2="814.8" y2="865"/>
<line class="d" x1="864.2" y1="814.9" x2="864.2" y2="860"/>
<line class="d" x1="814.8" y1="839" x2="864.2" y2="839"/>
<polygon class="ar" points="814.8,839 835.3,835.3 835.3,842.7"/>
<polygon class="ar" points="864.2,839 843.7,842.7 843.7,835.3"/>
<g transform="translate(839.5,831.3) rotate(0)"><path class="tf" d="M-5.48,0 L-5.48,-10.87 L-8.28,-8.88 L-8.28,-10.37 L-5.35,-12.38 L-3.89,-12.38 L-3.89,0 Z"/><text class="t" x="0" y="0" font-size="18">6</text></g>
<line class="d" x1="1080.5" y1="797" x2="1080.5" y2="833.2"/>
<line class="d" x1="1118.6" y1="797" x2="1118.6" y2="864.4"/>
<line class="d" x1="1056.3" y1="829.5" x2="1143.6" y2="829.5"/>
<polygon class="ar" points="1080.5,829.5 1060.5,833.2 1060.5,825.8"/>
<polygon class="ar" points="1118.6,829.5 1138.6,825.8 1138.6,833.2"/>
<g transform="translate(1097.4,825.8) rotate(0)"><path class="tf" d="M-5.48,0 L-5.48,-10.87 L-8.28,-8.88 L-8.28,-10.37 L-5.35,-12.38 L-3.89,-12.38 L-3.89,0 Z"/><text class="t" x="0" y="0" font-size="18">0</text></g>
<line class="d" x1="814.8" y1="861.4" x2="1118.6" y2="861.4"/>
<polygon class="ar" points="814.8,861.4 835.8,857.7 835.8,865.1"/>
<polygon class="ar" points="1118.6,861.4 1097.6,865.1 1097.6,857.7"/>
<g transform="translate(974.6,858.9) rotate(0)"><path class="tf" d="M-10.49,0 L-10.49,-10.87 L-13.28,-8.88 L-13.28,-10.37 L-10.36,-12.38 L-8.9,-12.38 L-8.9,0 Z"/><path class="tf" d="M-0.48,0 L-0.48,-10.87 L-3.27,-8.88 L-3.27,-10.37 L-0.35,-12.38 L1.11,-12.38 L1.11,0 Z"/><text class="t" x="5.01" y="0" font-size="18">4</text></g>
<polygon class="o" points="277.1,978.4 304,1004.6 164.4,1144 138,1117.6"/>
<path class="o" d="M296.5,1013.3 C304,1017 311.6,1024 311.6,1033.5 L311.6,1126.5 Q311.6,1132.8 305,1132.8 L175.8,1132.8"/>
<path class="o" d="M311.6,1031.3 C316.1,1031.3 331.97,1031.48 338.6,1031.3 C345.23,1031.12 347.12,1030.65 351.4,1030.2 C355.68,1029.75 360,1029.35 364.3,1028.6 C368.6,1027.85 372.92,1026.82 377.2,1025.7 C381.48,1024.58 385.72,1023.4 390,1021.9 C394.28,1020.4 398.6,1018.47 402.9,1016.7 C407.2,1014.93 411.52,1012.9 415.8,1011.3 C420.08,1009.7 424.75,1007.95 428.6,1007.1 C432.45,1006.25 434.53,1006.37 438.9,1006.2 C443.27,1006.03 452.15,1006.12 454.8,1006.1 L454.8,1145.1 C452.58,1145.13 445.87,1145.37 441.5,1145.3 C437.13,1145.23 432.88,1145.23 428.6,1144.7 C424.32,1144.17 420.08,1143.28 415.8,1142.1 C411.52,1140.92 407.2,1139.2 402.9,1137.6 C398.6,1136 394.28,1134.1 390,1132.5 C385.72,1130.9 381.48,1129.4 377.2,1128 C372.92,1126.6 368.6,1125.28 364.3,1124.1 C360,1122.92 355.68,1121.65 351.4,1120.9 C347.12,1120.15 345.23,1119.82 338.6,1119.6 C331.97,1119.38 316.1,1119.6 311.6,1119.6 "/>
<clipPath id="s5c"><path d="M364.3,1028.9 C364.52,1030.52 364.63,1035.27 365.6,1038.6 C366.57,1041.93 368.17,1045.8 370.1,1048.9 C372.03,1052 374.95,1055.32 377.2,1057.2 C379.45,1059.08 380.38,1059.87 383.6,1060.2 C386.82,1060.53 392.22,1060.02 396.5,1059.2 C400.78,1058.38 405.45,1057.45 409.3,1055.3 C413.15,1053.15 416.7,1049.52 419.6,1046.3 C422.5,1043.08 425.2,1039.43 426.7,1036 C428.2,1032.57 428.5,1029.35 428.6,1025.7 C428.7,1022.05 427.8,1017.12 427.3,1014.1 C426.8,1011.08 425.88,1008.68 425.6,1007.6 C423.97,1008.22 419.58,1009.78 415.8,1011.3 C412.02,1012.82 407.2,1014.93 402.9,1016.7 C398.6,1018.47 394.28,1020.4 390,1021.9 C385.72,1023.4 381.48,1024.58 377.2,1025.7 C372.92,1026.82 366.45,1028.12 364.3,1028.6 Z"/></clipPath><g clip-path="url(#s5c)">
<path class="th" d="M352.5,1071.16L362.85,1026.36M358.65,1071.16L369,1026.36M364.8,1071.16L375.15,1026.36M370.95,1071.16L381.3,1026.36M377.1,1071.16L387.45,1026.36M383.25,1071.16L393.6,1026.36M389.4,1071.16L399.75,1026.36M395.55,1071.16L405.9,1026.36M401.7,1071.16L412.05,1026.36M407.85,1071.16L418.2,1026.36M414,1071.16L424.35,1026.36M420.15,1071.16L430.5,1026.36M426.3,1071.16L436.65,1026.36"/></g>
<path d="M366.6,1030.2 C368,1029 369.8,1029.5 370.8,1032.3 C371.7,1029.7 373.1,1028 376.9,1028 C380.7,1028 382.1,1029.7 383,1032.3 C383.9,1029.7 385.3,1028 389.15,1028 C393,1028 394.4,1029.7 395.3,1032.3 C396.2,1029.7 397.6,1028 401.45,1028 C405.3,1028 406.7,1029.7 407.6,1032.3 C408.5,1029.7 409.9,1028 413.75,1028 C417.6,1028 419,1029.7 419.9,1032.3 L426.9,1032.2 L428.6,1025.7 L427.3,1014.1 L425.6,1007.6 C423.97,1008.22 419.58,1009.78 415.8,1011.3 C412.02,1012.82 407.2,1014.93 402.9,1016.7 C398.6,1018.47 394.28,1020.4 390,1021.9 C385.72,1023.4 381.48,1024.58 377.2,1025.7 C372.92,1026.82 366.45,1028.12 364.3,1028.6 Z" fill="#fff" stroke="none"/>
<clipPath id="s5d"><path d="M366.6,1030.2 C368,1029 369.8,1029.5 370.8,1032.3 C371.7,1029.7 373.1,1028 376.9,1028 C380.7,1028 382.1,1029.7 383,1032.3 C383.9,1029.7 385.3,1028 389.15,1028 C393,1028 394.4,1029.7 395.3,1032.3 C396.2,1029.7 397.6,1028 401.45,1028 C405.3,1028 406.7,1029.7 407.6,1032.3 C408.5,1029.7 409.9,1028 413.75,1028 C417.6,1028 419,1029.7 419.9,1032.3 L426.9,1032.2 L428.6,1025.7 L427.3,1014.1 L425.6,1007.6 C423.97,1008.22 419.58,1009.78 415.8,1011.3 C412.02,1012.82 407.2,1014.93 402.9,1016.7 C398.6,1018.47 394.28,1020.4 390,1021.9 C385.72,1023.4 381.48,1024.58 377.2,1025.7 C372.92,1026.82 366.45,1028.12 364.3,1028.6 Z"/></clipPath>
<g clip-path="url(#s5d)">
<path class="h" d="M337.46,1020L396,961.46M341.06,1023.61L399.61,965.06M344.67,1027.21L403.21,968.67M348.28,1030.82L406.82,972.28M351.88,1034.42L410.42,975.88M355.49,1038.03L414.03,979.49M359.1,1041.64L417.64,983.1M362.7,1045.24L421.24,986.7M366.31,1048.85L424.85,990.31M369.91,1052.46L428.46,993.91M373.52,1056.06L432.06,997.52M377.13,1059.67L435.67,1001.13M380.73,1063.27L439.27,1004.73M384.34,1066.88L442.88,1008.34M387.95,1070.49L446.49,1011.95M391.55,1074.09L450.09,1015.55M395.16,1077.7L453.7,1019.16"/>
</g>
<clipPath id="s5e"><path d="M366.6,1030.2 C368,1029 369.8,1029.5 370.8,1032.3 C371.7,1029.7 373.1,1028 376.9,1028 C380.7,1028 382.1,1029.7 383,1032.3 C383.9,1029.7 385.3,1028 389.15,1028 C393,1028 394.4,1029.7 395.3,1032.3 C396.2,1029.7 397.6,1028 401.45,1028 C405.3,1028 406.7,1029.7 407.6,1032.3 C408.5,1029.7 409.9,1028 413.75,1028 C417.6,1028 419,1029.7 419.9,1032.3 L426.9,1032.2 L428.6,1025.7 L427.3,1014.1 L425.6,1007.6 C423.97,1008.22 419.58,1009.78 415.8,1011.3 C412.02,1012.82 407.2,1014.93 402.9,1016.7 C398.6,1018.47 394.28,1020.4 390,1021.9 C385.72,1023.4 381.48,1024.58 377.2,1025.7 C372.92,1026.82 366.45,1028.12 364.3,1028.6 Z"/></clipPath>
<g clip-path="url(#s5e)">
<path class="h" d="M396,961.46L454.54,1020M392.39,965.06L450.94,1023.61M388.79,968.67L447.33,1027.21M385.18,972.28L443.72,1030.82M381.58,975.88L440.12,1034.42M377.97,979.49L436.51,1038.03M374.36,983.1L432.9,1041.64M370.76,986.7L429.3,1045.24M367.15,990.31L425.69,1048.85M363.54,993.91L422.09,1052.46M359.94,997.52L418.48,1056.06M356.33,1001.13L414.87,1059.67M352.73,1004.73L411.27,1063.27M349.12,1008.34L407.66,1066.88M345.51,1011.95L404.05,1070.49M341.91,1015.55L400.45,1074.09M338.3,1019.16L396.84,1077.7"/>
</g>
<path class="o" d="M366.6,1030.2 C368,1029 369.8,1029.5 370.8,1032.3 C371.7,1029.7 373.1,1028 376.9,1028 C380.7,1028 382.1,1029.7 383,1032.3 C383.9,1029.7 385.3,1028 389.15,1028 C393,1028 394.4,1029.7 395.3,1032.3 C396.2,1029.7 397.6,1028 401.45,1028 C405.3,1028 406.7,1029.7 407.6,1032.3 C408.5,1029.7 409.9,1028 413.75,1028 C417.6,1028 419,1029.7 419.9,1032.3 "/>
<line class="th" x1="367" y1="1030" x2="367.6" y2="1038.5"/>
<line class="th" x1="420.4" y1="1032.2" x2="419.6" y2="1046.5"/>
<path class="o" d="M364.3,1028.9 C364.52,1030.52 364.63,1035.27 365.6,1038.6 C366.57,1041.93 368.17,1045.8 370.1,1048.9 C372.03,1052 374.95,1055.32 377.2,1057.2 C379.45,1059.08 380.38,1059.87 383.6,1060.2 C386.82,1060.53 392.22,1060.02 396.5,1059.2 C400.78,1058.38 405.45,1057.45 409.3,1055.3 C413.15,1053.15 416.7,1049.52 419.6,1046.3 C422.5,1043.08 425.2,1039.43 426.7,1036 C428.2,1032.57 428.5,1029.35 428.6,1025.7 C428.7,1022.05 427.8,1017.12 427.3,1014.1 C426.8,1011.08 425.88,1008.68 425.6,1007.6 "/>
<line class="c" x1="177.4" y1="1075.4" x2="456" y2="1075.4"/>
<line class="d" x1="98" y1="978.4" x2="277.1" y2="978.4"/>
<line class="d" x1="98.5" y1="1144" x2="164.4" y2="1144"/>
<line class="d" x1="102.2" y1="978.4" x2="102.2" y2="1144"/>
<polygon class="ar" points="102.2,978.4 105.9,999.4 98.5,999.4"/>
<polygon class="ar" points="102.2,1144 98.5,1123 105.9,1123"/>
<g transform="translate(100,1059.2) rotate(-90)">
<circle class="ds" cx="-10.15" cy="-6.7" r="6.2"/>
<line class="ds" x1="-16.45" y1="0.2" x2="-3.75" y2="-13.4"/>
<text class="t" x="-2.67" y="0" font-size="18">60</text>
</g>
<line class="d" x1="138" y1="1117.6" x2="119.25" y2="1098.87"/>
<line class="d" x1="277.1" y1="978.4" x2="258.35" y2="959.67"/>
<line class="d" x1="122.08" y1="1101.7" x2="261.18" y2="962.5"/>
<polygon class="ar" points="122.08,1101.7 133.6,1084.93 138.84,1090.16"/>
<polygon class="ar" points="261.18,962.5 249.66,979.26 244.43,974.03"/>
<g transform="translate(182,1035.5) rotate(-45)">
<circle class="ds" cx="-10.13" cy="-6.7" r="6.2"/>
<line class="ds" x1="-16.43" y1="0.2" x2="-3.73" y2="-13.4"/>
<text class="t" x="-2.64" y="0" font-size="18">65</text>
</g>
<line class="d" x1="454.8" y1="1006.1" x2="524.1" y2="1006.1"/>
<line class="d" x1="454.8" y1="1145.1" x2="524.1" y2="1145.1"/>
<line class="d" x1="518.5" y1="1006.1" x2="518.5" y2="1145.1"/>
<polygon class="ar" points="518.5,1006.1 522.2,1027.1 514.8,1027.1"/>
<polygon class="ar" points="518.5,1145.1 514.8,1124.1 522.2,1124.1"/>
<g transform="translate(514,1073.4) rotate(-90)">
<circle class="ds" cx="-10.15" cy="-6.7" r="6.2"/>
<line class="ds" x1="-16.45" y1="0.2" x2="-3.75" y2="-13.4"/>
<text class="t" x="-2.47" y="0" font-size="18">52</text>
</g>
<line class="d" x1="427.6" y1="1032.6" x2="488.9" y2="1032.6"/>
<line class="d" x1="484.9" y1="1032.6" x2="484.9" y2="1108.6"/>
<polygon class="ar" points="484.9,1032.6 488.6,1052.6 481.2,1052.6"/>
<text class="t" transform="translate(478.9,1077) rotate(-90)" font-size="18" text-anchor="middle">E27</text>
<line class="d" x1="137.7" y1="1117.6" x2="137.7" y2="1181"/>
<line class="d" x1="454.8" y1="1145.1" x2="454.8" y2="1182"/>
<line class="d" x1="137.7" y1="1177.9" x2="454.8" y2="1177.9"/>
<polygon class="ar" points="137.7,1177.9 158.7,1174.2 158.7,1181.6"/>
<polygon class="ar" points="454.8,1177.9 433.8,1181.6 433.8,1174.2"/>
<text class="t" x="294" y="1174.7" font-size="18" text-anchor="middle">95</text>
<rect class="o" x="690.7" y="999.9" width="32.9" height="153.1"/>
<path class="o" d="M723.6,999.9 C742,1006 756.6,1018 756.6,1031.4"/>
<path class="o" d="M723.6,1153 C742,1147 756.6,1135 756.6,1121.5"/>
<rect class="o" x="756.6" y="1031.4" width="16.8" height="90.1"/>
<line class="o" x1="756.6" y1="1036.8" x2="773.4" y2="1036.8"/>
<line class="o" x1="756.6" y1="1052.9" x2="773.4" y2="1052.9"/>
<line class="o" x1="756.6" y1="1057.4" x2="773.4" y2="1057.4"/>
<line class="o" x1="756.6" y1="1074.1" x2="773.4" y2="1074.1"/>
<line class="o" x1="756.6" y1="1077.3" x2="773.4" y2="1077.3"/>
<line class="o" x1="756.6" y1="1096" x2="773.4" y2="1096"/>
<line class="o" x1="756.6" y1="1099.8" x2="773.4" y2="1099.8"/>
<line class="o" x1="756.6" y1="1115.9" x2="773.4" y2="1115.9"/>
<path class="o" d="M773.5,1031.7 C776.25,1031.67 783.03,1031.83 790,1031.5 C796.97,1031.17 807.43,1031.17 815.3,1029.7 C823.17,1028.23 829.27,1025.48 837.2,1022.7 C845.13,1019.92 855.4,1015.58 862.9,1013 C870.4,1010.42 876.85,1008.2 882.2,1007.2 C887.55,1006.2 890.95,1006.95 895,1007 C899.05,1007.05 904.58,1007.42 906.5,1007.5 L906.5,1145.3 C904.58,1145.33 899.05,1145.58 895,1145.5 C890.95,1145.42 887.55,1145.88 882.2,1144.8 C876.85,1143.72 870.4,1141.47 862.9,1139 C855.4,1136.53 845.78,1132.57 837.2,1130 C828.62,1127.43 819.27,1125.05 811.4,1123.6 C803.53,1122.15 796.32,1121.73 790,1121.3 C783.68,1120.87 776.25,1121.05 773.5,1121 "/>
<clipPath id="s6c"><path d="M816.3,1030.2 C816.52,1031.82 816.63,1036.57 817.6,1039.9 C818.57,1043.23 820.17,1047.1 822.1,1050.2 C824.03,1053.3 826.95,1056.62 829.2,1058.5 C831.45,1060.38 832.38,1061.17 835.6,1061.5 C838.82,1061.83 844.22,1061.32 848.5,1060.5 C852.78,1059.68 857.45,1058.75 861.3,1056.6 C865.15,1054.45 868.7,1050.82 871.6,1047.6 C874.5,1044.38 877.2,1040.73 878.7,1037.3 C880.2,1033.87 880.5,1030.65 880.6,1027 C880.7,1023.35 879.8,1018.42 879.3,1015.4 C878.8,1012.38 877.88,1009.98 877.6,1008.9 C875.98,1009.17 869.8,1010.62 862.9,1013 C856,1015.38 845.13,1019.92 837.2,1022.7 C829.27,1025.48 818.95,1028.53 815.3,1029.7 Z"/></clipPath><g clip-path="url(#s6c)">
<path class="th" d="M804.5,1072.46L814.85,1027.66M810.65,1072.46L821,1027.66M816.8,1072.46L827.15,1027.66M822.95,1072.46L833.3,1027.66M829.1,1072.46L839.45,1027.66M835.25,1072.46L845.6,1027.66M841.4,1072.46L851.75,1027.66M847.55,1072.46L857.9,1027.66M853.7,1072.46L864.05,1027.66M859.85,1072.46L870.2,1027.66M866,1072.46L876.35,1027.66M872.15,1072.46L882.5,1027.66M878.3,1072.46L888.65,1027.66"/></g>
<path d="M818.6,1031.5 C820,1030.3 821.8,1030.8 822.8,1033.6 C823.7,1031 825.1,1029.3 828.9,1029.3 C832.7,1029.3 834.1,1031 835,1033.6 C835.9,1031 837.3,1029.3 841.15,1029.3 C845,1029.3 846.4,1031 847.3,1033.6 C848.2,1031 849.6,1029.3 853.45,1029.3 C857.3,1029.3 858.7,1031 859.6,1033.6 C860.5,1031 861.9,1029.3 865.75,1029.3 C869.6,1029.3 871,1031 871.9,1033.6 L878.9,1033.5 L880.6,1027 L879.3,1015.4 L877.6,1008.9 C875.98,1009.17 869.8,1010.62 862.9,1013 C856,1015.38 845.13,1019.92 837.2,1022.7 C829.27,1025.48 818.95,1028.53 815.3,1029.7 Z" fill="#fff" stroke="none"/>
<clipPath id="s6d"><path d="M818.6,1031.5 C820,1030.3 821.8,1030.8 822.8,1033.6 C823.7,1031 825.1,1029.3 828.9,1029.3 C832.7,1029.3 834.1,1031 835,1033.6 C835.9,1031 837.3,1029.3 841.15,1029.3 C845,1029.3 846.4,1031 847.3,1033.6 C848.2,1031 849.6,1029.3 853.45,1029.3 C857.3,1029.3 858.7,1031 859.6,1033.6 C860.5,1031 861.9,1029.3 865.75,1029.3 C869.6,1029.3 871,1031 871.9,1033.6 L878.9,1033.5 L880.6,1027 L879.3,1015.4 L877.6,1008.9 C875.98,1009.17 869.8,1010.62 862.9,1013 C856,1015.38 845.13,1019.92 837.2,1022.7 C829.27,1025.48 818.95,1028.53 815.3,1029.7 Z"/></clipPath>
<g clip-path="url(#s6d)">
<path class="h" d="M789.46,1021.3L848,962.76M793.06,1024.91L851.61,966.36M796.67,1028.51L855.21,969.97M800.28,1032.12L858.82,973.58M803.88,1035.72L862.42,977.18M807.49,1039.33L866.03,980.79M811.1,1042.94L869.64,984.4M814.7,1046.54L873.24,988M818.31,1050.15L876.85,991.61M821.91,1053.76L880.46,995.21M825.52,1057.36L884.06,998.82M829.13,1060.97L887.67,1002.43M832.73,1064.57L891.27,1006.03M836.34,1068.18L894.88,1009.64M839.95,1071.79L898.49,1013.25M843.55,1075.39L902.09,1016.85M847.16,1079L905.7,1020.46"/>
</g>
<clipPath id="s6e"><path d="M818.6,1031.5 C820,1030.3 821.8,1030.8 822.8,1033.6 C823.7,1031 825.1,1029.3 828.9,1029.3 C832.7,1029.3 834.1,1031 835,1033.6 C835.9,1031 837.3,1029.3 841.15,1029.3 C845,1029.3 846.4,1031 847.3,1033.6 C848.2,1031 849.6,1029.3 853.45,1029.3 C857.3,1029.3 858.7,1031 859.6,1033.6 C860.5,1031 861.9,1029.3 865.75,1029.3 C869.6,1029.3 871,1031 871.9,1033.6 L878.9,1033.5 L880.6,1027 L879.3,1015.4 L877.6,1008.9 C875.98,1009.17 869.8,1010.62 862.9,1013 C856,1015.38 845.13,1019.92 837.2,1022.7 C829.27,1025.48 818.95,1028.53 815.3,1029.7 Z"/></clipPath>
<g clip-path="url(#s6e)">
<path class="h" d="M848,962.76L906.54,1021.3M844.39,966.36L902.94,1024.91M840.79,969.97L899.33,1028.51M837.18,973.58L895.72,1032.12M833.58,977.18L892.12,1035.72M829.97,980.79L888.51,1039.33M826.36,984.4L884.9,1042.94M822.76,988L881.3,1046.54M819.15,991.61L877.69,1050.15M815.54,995.21L874.09,1053.76M811.94,998.82L870.48,1057.36M808.33,1002.43L866.87,1060.97M804.73,1006.03L863.27,1064.57M801.12,1009.64L859.66,1068.18M797.51,1013.25L856.05,1071.79M793.91,1016.85L852.45,1075.39M790.3,1020.46L848.84,1079"/>
</g>
<path class="o" d="M818.6,1031.5 C820,1030.3 821.8,1030.8 822.8,1033.6 C823.7,1031 825.1,1029.3 828.9,1029.3 C832.7,1029.3 834.1,1031 835,1033.6 C835.9,1031 837.3,1029.3 841.15,1029.3 C845,1029.3 846.4,1031 847.3,1033.6 C848.2,1031 849.6,1029.3 853.45,1029.3 C857.3,1029.3 858.7,1031 859.6,1033.6 C860.5,1031 861.9,1029.3 865.75,1029.3 C869.6,1029.3 871,1031 871.9,1033.6 "/>
<line class="th" x1="819" y1="1031.3" x2="819.6" y2="1039.8"/>
<line class="th" x1="872.4" y1="1033.5" x2="871.6" y2="1047.8"/>
<path class="o" d="M816.3,1030.2 C816.52,1031.82 816.63,1036.57 817.6,1039.9 C818.57,1043.23 820.17,1047.1 822.1,1050.2 C824.03,1053.3 826.95,1056.62 829.2,1058.5 C831.45,1060.38 832.38,1061.17 835.6,1061.5 C838.82,1061.83 844.22,1061.32 848.5,1060.5 C852.78,1059.68 857.45,1058.75 861.3,1056.6 C865.15,1054.45 868.7,1050.82 871.6,1047.6 C874.5,1044.38 877.2,1040.73 878.7,1037.3 C880.2,1033.87 880.5,1030.65 880.6,1027 C880.7,1023.35 879.8,1018.42 879.3,1015.4 C878.8,1012.38 877.88,1009.98 877.6,1008.9 "/>
<line class="c" x1="687" y1="1075.6" x2="908" y2="1075.6"/>
<line class="d" x1="660.3" y1="999.9" x2="690.7" y2="999.9"/>
<line class="d" x1="660.3" y1="1153" x2="690.7" y2="1153"/>
<line class="d" x1="665.4" y1="999.9" x2="665.4" y2="1153"/>
<polygon class="ar" points="665.4,999.9 669.1,1020.4 661.7,1020.4"/>
<polygon class="ar" points="665.4,1153 661.7,1132.5 669.1,1132.5"/>
<g transform="translate(663.1,1068.7) rotate(-90)">
<circle class="ds" cx="-10.13" cy="-6.7" r="6.2"/>
<line class="ds" x1="-16.43" y1="0.2" x2="-3.73" y2="-13.4"/>
<text class="t" x="-2.64" y="0" font-size="18">65</text>
</g>
<line class="d" x1="879.8" y1="1033.4" x2="940.3" y2="1033.4"/>
<line class="d" x1="936.6" y1="1033.4" x2="936.6" y2="1108.8"/>
<polygon class="ar" points="936.6,1033.4 940.3,1053.4 932.9,1053.4"/>
<text class="t" transform="translate(931.6,1077.8) rotate(-90)" font-size="18" text-anchor="middle">E27</text>
<line class="d" x1="906.5" y1="1007.5" x2="975.5" y2="1007.5"/>
<line class="d" x1="906.5" y1="1146" x2="975.5" y2="1146"/>
<line class="d" x1="970.4" y1="1007.5" x2="970.4" y2="1146"/>
<polygon class="ar" points="970.4,1007.5 974.1,1028 966.7,1028"/>
<polygon class="ar" points="970.4,1146 966.7,1125.5 974.1,1125.5"/>
<g transform="translate(967,1077.2) rotate(-90)">
<circle class="ds" cx="-10.15" cy="-6.7" r="6.2"/>
<line class="ds" x1="-16.45" y1="0.2" x2="-3.75" y2="-13.4"/>
<text class="t" x="-2.47" y="0" font-size="18">52</text>
</g>
<line class="d" x1="690.7" y1="1153" x2="690.7" y2="1182"/>
<line class="d" x1="906.5" y1="1146" x2="906.5" y2="1182"/>
<line class="d" x1="690.7" y1="1178.6" x2="906.5" y2="1178.6"/>
<polygon class="ar" points="690.7,1178.6 711.7,1174.9 711.7,1182.3"/>
<polygon class="ar" points="906.5,1178.6 885.5,1182.3 885.5,1174.9"/>
<text class="t" x="801" y="1176.3" font-size="18" text-anchor="middle">70</text>
<clipPath id="h7a"><path d="M157.2,1404.3 L157.2,1397.5 Q157.2,1395.6 159.5,1395.6 L171.3,1395.6 L171.3,1397 L190.2,1397 L190.2,1381.5 L197.8,1381.5 L213.7,1394.9 L232.9,1394.9 L232.9,1404.3 Z"/></clipPath>
<g clip-path="url(#h7a)">
<path class="h" d="M125.77,1393L193,1325.77M129.73,1396.96L196.96,1329.73M133.69,1400.92L200.92,1333.69M137.65,1404.88L204.88,1337.65M141.61,1408.84L208.84,1341.61M145.57,1412.8L212.8,1345.57M149.53,1416.76L216.76,1349.53M153.49,1420.72L220.72,1353.49M157.44,1424.68L224.68,1357.44M161.4,1428.64L228.64,1361.4M165.36,1432.6L232.6,1365.36M169.32,1436.56L236.56,1369.32M173.28,1440.52L240.52,1373.28M177.24,1444.48L244.48,1377.24M181.2,1448.44L248.44,1381.2M185.16,1452.4L252.4,1385.16M189.12,1456.36L256.36,1389.12"/>
</g>
<clipPath id="h7b"><path d="M171.3,1381.5 L190.2,1381.5 L190.2,1395.6 L171.3,1395.6 Z"/></clipPath>
<g clip-path="url(#h7b)">
<path class="h" d="M181,1362.09L207.91,1389M178.6,1364.49L205.51,1391.4M176.19,1366.9L203.1,1393.81M173.79,1369.3L200.7,1396.21M171.38,1371.71L198.29,1398.62M168.98,1374.11L195.89,1401.02M166.58,1376.51L193.49,1403.42M164.17,1378.92L191.08,1405.83M161.77,1381.32L188.68,1408.23M159.36,1383.73L186.27,1410.64M156.96,1386.13L183.87,1413.04M154.55,1388.53L181.47,1415.45"/>
</g>
<clipPath id="h7c"><path d="M169.8,1406.8 L232.9,1406.8 L232.9,1410.8 L169.8,1410.8 Z"/></clipPath>
<g clip-path="url(#h7c)">
<path class="h" d="M202,1357.17L253.33,1408.5M198.32,1360.85L249.65,1412.18M194.65,1364.52L245.98,1415.85M190.97,1368.2L242.3,1419.53M187.29,1371.88L238.62,1423.21M183.62,1375.55L234.95,1426.88M179.94,1379.23L231.27,1430.56M176.26,1382.91L227.59,1434.24M172.58,1386.58L223.92,1437.92M168.91,1390.26L220.24,1441.59M165.23,1393.94L216.56,1445.27M161.55,1397.62L212.88,1448.95M157.88,1401.29L209.21,1452.62M154.2,1404.97L205.53,1456.3"/>
</g>
<clipPath id="h7c2"><path d="M169.8,1406.8 L232.9,1406.8 L232.9,1410.8 L169.8,1410.8 Z"/></clipPath>
<g clip-path="url(#h7c2)">
<path class="h" d="M150.67,1408.5L202,1357.17M154.35,1412.18L205.68,1360.85M158.02,1415.85L209.35,1364.52M161.7,1419.53L213.03,1368.2M165.38,1423.21L216.71,1371.88M169.05,1426.88L220.38,1375.55M172.73,1430.56L224.06,1379.23M176.41,1434.24L227.74,1382.91M180.08,1437.92L231.42,1386.58M183.76,1441.59L235.09,1390.26M187.44,1445.27L238.77,1393.94M191.12,1448.95L242.45,1397.62M194.79,1452.62L246.12,1401.29M198.47,1456.3L249.8,1404.97"/>
</g>
<clipPath id="h7d"><path d="M221.6,1410.8 L232.9,1410.8 L232.9,1415.2 L221.6,1415.2 Z"/></clipPath>
<g clip-path="url(#h7d)">
<path class="h" d="M227,1392.05L245.95,1411M225.44,1393.6L244.4,1412.56M223.89,1395.16L242.84,1414.11M222.33,1396.71L241.29,1415.67M220.78,1398.27L239.73,1417.22M219.22,1399.83L238.17,1418.78M217.67,1401.38L236.62,1420.33M216.11,1402.94L235.06,1421.89M214.55,1404.49L233.51,1423.45M213,1406.05L231.95,1425M211.44,1407.6L230.4,1426.56M209.89,1409.16L228.84,1428.11M208.33,1410.71L227.29,1429.67"/>
</g>
<clipPath id="t7"><path d="M178.2,1410.8 L221.6,1410.8 L221.6,1448.8 C216,1452.5 210,1457 204.3,1457.5 C200,1459.3 196,1459.3 193.4,1459.3 C189,1459 186,1458.5 184,1457.5 C181.5,1456 179.5,1454.5 178.2,1453.1 Z"/></clipPath><g clip-path="url(#t7)">
<path class="th" d="M175.98,1411L164.15,1471.86M180.78,1411L168.95,1471.86M187.08,1411L175.25,1471.86M191.88,1411L180.05,1471.86M198.28,1411L186.45,1471.86M203.08,1411L191.25,1471.86M209.48,1411L197.65,1471.86M214.28,1411L202.45,1471.86M220.68,1411L208.85,1471.86M225.48,1411L213.65,1471.86"/>
<path class="th" d="M174.16,1410.8 Q176.8,1411.52 178,1414.4 Q179.2,1411.52 181.84,1410.8 M185.26,1410.8 Q187.9,1411.52 189.1,1414.4 Q190.3,1411.52 192.94,1410.8 M196.46,1410.8 Q199.1,1411.52 200.3,1414.4 Q201.5,1411.52 204.14,1410.8 M207.66,1410.8 Q210.3,1411.52 211.5,1414.4 Q212.7,1411.52 215.34,1410.8 M218.86,1410.8 Q221.5,1411.52 222.7,1414.4 Q223.9,1411.52 226.54,1410.8 "/>
</g>
<path class="o" d="M157.2,1515.9 L157.2,1397.5 Q157.2,1395.6 159.5,1395.6 L171.3,1395.6"/>
<rect class="o" x="171.3" y="1381.5" width="18.9" height="14.1"/>
<line class="d" x1="171.3" y1="1397" x2="190.2" y2="1397"/>
<polyline class="o" points="190.2,1381.5 197.8,1381.5 213.7,1394.9 290,1394.9"/>
<line class="d" x1="110.9" y1="1381.5" x2="171.3" y2="1381.5"/>
<line class="o" x1="157.2" y1="1404.3" x2="232.9" y2="1404.3"/>
<line class="o" x1="157.2" y1="1406.1" x2="232.9" y2="1406.1"/>
<line class="o" x1="169.8" y1="1406.1" x2="169.8" y2="1527.8"/>
<line class="o" x1="169.8" y1="1410.8" x2="232.9" y2="1410.8"/>
<line class="o" x1="221.6" y1="1415.2" x2="232.9" y2="1415.2"/>
<path class="o" d="M232.9,1394.9 L232.9,1436.5 C232.5,1441 229.5,1445 226,1447.4 C222,1450.5 218,1452.5 213.7,1453.9"/>
<path class="o" d="M221.6,1410.8 L221.6,1448.8 C216,1452.5 210,1457 204.3,1457.5 C200,1459.3 196,1459.3 193.4,1459.3 C189,1459 186,1458.5 184,1457.5 C181.5,1456 179.5,1454.5 178.2,1453.1"/>
<line class="o" x1="178.2" y1="1410.8" x2="178.2" y2="1453.1"/>
<path class="o" d="M157.2,1444.5 C163,1443.5 167,1444.5 170,1446.5 C173.5,1449 176,1452.5 178.2,1453.1"/>
<line class="o" x1="192.7" y1="1459.2" x2="192.7" y2="1527.8"/>
<line class="o" x1="198.1" y1="1459.2" x2="198.1" y2="1527.8"/>
<line class="o" x1="214.4" y1="1453.6" x2="214.4" y2="1515.9"/>
<line class="o" x1="157.2" y1="1456.2" x2="169.8" y2="1456.2"/>
<line class="o" x1="157.2" y1="1515.9" x2="169.8" y2="1515.9"/>
<line class="o" x1="157.2" y1="1513.2" x2="169.8" y2="1513.2"/>
<line class="d" x1="157.2" y1="1515.9" x2="157.2" y2="1527.8"/>
<line class="o" x1="169.8" y1="1527.8" x2="198.1" y2="1527.8"/>
<line class="o" x1="198.1" y1="1527.8" x2="214.4" y2="1515.9"/>
<line class="o" x1="214.4" y1="1515.9" x2="290" y2="1515.9"/>
<rect class="o" x="290" y="1389.9" width="25.2" height="129.2"/>
<path class="o" d="M315.2,1389.9 A33,66 0 0 1 345.7,1427"/>
<path class="o" d="M315.2,1519.1 A33,66 0 0 0 345.7,1482.7"/>
<rect class="o" x="345.7" y="1427" width="6.1" height="55.7"/>
<rect class="o" x="351.8" y="1432.3" width="22.2" height="43.8"/>
<line class="c" x1="157.3" y1="1456.2" x2="375" y2="1456.2"/>
<line class="d" x1="110.9" y1="1527.8" x2="198.4" y2="1527.8"/>
<line class="d" x1="113.6" y1="1381.9" x2="113.6" y2="1527.8"/>
<polygon class="ar" points="113.6,1381.9 117.3,1402.9 109.9,1402.9"/>
<polygon class="ar" points="113.6,1527.8 109.9,1506.8 117.3,1506.8"/>
<g transform="translate(109.6,1450.2) rotate(-90)">
<circle class="ds" cx="-10.25" cy="-6.7" r="6.2"/>
<line class="ds" x1="-16.55" y1="0.2" x2="-3.85" y2="-13.4"/>
<text class="t" x="-2.57" y="0" font-size="18">50</text>
</g>
<line class="d" x1="140.1" y1="1411.2" x2="178.2" y2="1411.2"/>
<line class="d" x1="144.1" y1="1411.2" x2="144.1" y2="1484"/>
<polygon class="ar" points="144.1,1411.2 147.8,1431.2 140.4,1431.2"/>
<text class="t" transform="translate(138.8,1453.6) rotate(-90)" font-size="18" text-anchor="middle">E27</text>
<line class="d" x1="315.2" y1="1389.9" x2="408" y2="1389.9"/>
<line class="d" x1="315.2" y1="1519.1" x2="408" y2="1519.1"/>
<line class="d" x1="405.3" y1="1389.9" x2="405.3" y2="1519.1"/>
<polygon class="ar" points="405.3,1389.9 409,1410.9 401.6,1410.9"/>
<polygon class="ar" points="405.3,1519.1 401.6,1498.1 409,1498.1"/>
<g transform="translate(402.7,1449.6) rotate(-90)">
<circle class="ds" cx="-10.38" cy="-6.7" r="6.2"/>
<line class="ds" x1="-16.68" y1="0.2" x2="-3.98" y2="-13.4"/>
<text class="t" x="-2.39" y="0" font-size="18">45</text>
</g>
<line class="d" x1="157.3" y1="1527.8" x2="157.3" y2="1565"/>
<line class="d" x1="374" y1="1476.1" x2="374" y2="1565"/>
<line class="d" x1="157.3" y1="1561" x2="374" y2="1561"/>
<polygon class="ar" points="157.3,1561 178.3,1557.3 178.3,1564.7"/>
<polygon class="ar" points="374,1561 353,1564.7 353,1557.3"/>
<text class="t" x="261.5" y="1558.3" font-size="18" text-anchor="middle">67</text>
<line class="d" x1="693.9" y1="1293.3" x2="693.9" y2="1339.4"/>
<line class="d" x1="922.9" y1="1293.3" x2="922.9" y2="1370.6"/>
<line class="d" x1="693.9" y1="1297.1" x2="922.9" y2="1297.1"/>
<polygon class="ar" points="693.9,1297.1 714.9,1293.4 714.9,1300.8"/>
<polygon class="ar" points="922.9,1297.1 901.9,1300.8 901.9,1293.4"/>
<text class="t" x="806" y="1292.4" font-size="18" text-anchor="middle">46</text>
<line class="d" x1="769.4" y1="1318" x2="769.4" y2="1339.4"/>
<line class="d" x1="693.9" y1="1322.1" x2="769.4" y2="1322.1"/>
<polygon class="ar" points="693.9,1322.1 714.4,1318.4 714.4,1325.8"/>
<polygon class="ar" points="769.4,1322.1 748.9,1325.8 748.9,1318.4"/>
<g transform="translate(733.6,1319.4) rotate(0)"><path class="tf" d="M-5.48,0 L-5.48,-10.87 L-8.28,-8.88 L-8.28,-10.37 L-5.35,-12.38 L-3.89,-12.38 L-3.89,0 Z"/><text class="t" x="0" y="0" font-size="18">5</text></g>
<polyline class="o" points="693.9,1546 693.9,1339.4 769.6,1339.4 769.6,1343.3 698.7,1343.3 698.7,1387.3"/>
<line class="d" x1="663.5" y1="1339.4" x2="693.9" y2="1339.4"/>
<line class="d" x1="663.5" y1="1382.7" x2="922.9" y2="1382.7"/>
<line class="d" x1="665.6" y1="1339.4" x2="665.6" y2="1555"/>
<polygon class="ar" points="665.6,1339.4 669.3,1357.4 661.9,1357.4"/>
<polygon class="ar" points="665.6,1382.7 661.9,1364.7 669.3,1364.7"/>
<polygon class="ar" points="665.6,1382.7 669.3,1402.7 661.9,1402.7"/>
<polygon class="ar" points="665.6,1555 661.9,1535 669.3,1535"/>
<g transform="translate(660.3,1362.4) rotate(-90)"><path class="tf" d="M-5.48,0 L-5.48,-10.87 L-8.28,-8.88 L-8.28,-10.37 L-5.35,-12.38 L-3.89,-12.38 L-3.89,0 Z"/><path class="tf" d="M4.53,0 L4.53,-10.87 L1.73,-8.88 L1.73,-10.37 L4.66,-12.38 L6.12,-12.38 L6.12,0 Z"/></g>
<g transform="translate(667.7,1472.5) rotate(-90)">
<circle class="ds" cx="-10.35" cy="-6.7" r="6.2"/>
<line class="ds" x1="-16.65" y1="0.2" x2="-3.95" y2="-13.4"/>
<text class="t" x="-2.64" y="0" font-size="18">34</text>
</g>
<line class="d" x1="663.5" y1="1555" x2="703.9" y2="1555"/>
<line class="d" x1="684" y1="1382.7" x2="684" y2="1555"/>
<clipPath id="h8a"><path d="M693.9,1391.5 L703.9,1382.7 L852.1,1382.7 L864,1370.6 L922.9,1370.6 L922.9,1385.5 L865.5,1385.5 L865.5,1399.1 L709.3,1399.1 L709.3,1406.2 L693.9,1406.2 Z"/></clipPath>
<g clip-path="url(#h8a)">
<line class="th" x1="807.5" y1="1217.37" x2="979.13" y2="1389"/>
<line class="th" x1="800.78" y1="1224.09" x2="972.41" y2="1395.72"/>
<line class="th" x1="794.06" y1="1230.8" x2="965.7" y2="1402.44"/>
<line class="th" x1="787.35" y1="1237.52" x2="958.98" y2="1409.15"/>
<line class="th" x1="780.63" y1="1244.24" x2="952.26" y2="1415.87"/>
<line class="th" x1="773.91" y1="1250.96" x2="945.54" y2="1422.59"/>
<line class="th" x1="767.19" y1="1257.67" x2="938.83" y2="1429.31"/>
<line class="th" x1="760.48" y1="1264.39" x2="932.11" y2="1436.02"/>
<line class="th" x1="753.76" y1="1271.11" x2="925.39" y2="1442.74"/>
<line class="th" x1="747.04" y1="1277.83" x2="918.67" y2="1449.46"/>
<line class="th" x1="740.32" y1="1284.54" x2="911.96" y2="1456.18"/>
<line class="th" x1="733.61" y1="1291.26" x2="905.24" y2="1462.89"/>
<line class="th" x1="726.89" y1="1297.98" x2="898.52" y2="1469.61"/>
<line class="th" x1="720.17" y1="1304.7" x2="891.8" y2="1476.33"/>
<line class="th" x1="713.45" y1="1311.41" x2="885.09" y2="1483.05"/>
<line class="th" x1="706.74" y1="1318.13" x2="878.37" y2="1489.76"/>
<line class="th" x1="700.02" y1="1324.85" x2="871.65" y2="1496.48"/>
<line class="th" x1="693.3" y1="1331.57" x2="864.93" y2="1503.2"/>
<line class="th" x1="686.58" y1="1338.28" x2="858.22" y2="1509.92"/>
<line class="th" x1="679.87" y1="1345" x2="851.5" y2="1516.63"/>
<line class="th" x1="673.15" y1="1351.72" x2="844.78" y2="1523.35"/>
<line class="th" x1="666.43" y1="1358.44" x2="838.06" y2="1530.07"/>
<line class="th" x1="659.71" y1="1365.15" x2="831.35" y2="1536.79"/>
<line class="th" x1="653" y1="1371.87" x2="824.63" y2="1543.5"/>
<line class="th" x1="646.28" y1="1378.59" x2="817.91" y2="1550.22"/>
<line class="th" x1="639.56" y1="1385.31" x2="811.19" y2="1556.94"/>
</g>
<clipPath id="h8b"><path d="M693.9,1429.5 L709.3,1429.5 L709.3,1437.3 L753.4,1437.3 L753.4,1450.6 L739,1450.6 L739,1467.5 L693.9,1467.5 Z"/></clipPath>
<g clip-path="url(#h8b)">
<line class="th" x1="723.5" y1="1388.49" x2="783.01" y2="1448"/>
<line class="th" x1="716.78" y1="1395.21" x2="776.29" y2="1454.72"/>
<line class="th" x1="710.06" y1="1401.93" x2="769.57" y2="1461.44"/>
<line class="th" x1="703.35" y1="1408.65" x2="762.85" y2="1468.15"/>
<line class="th" x1="696.63" y1="1415.36" x2="756.14" y2="1474.87"/>
<line class="th" x1="689.91" y1="1422.08" x2="749.42" y2="1481.59"/>
<line class="th" x1="683.19" y1="1428.8" x2="742.7" y2="1488.31"/>
<line class="th" x1="676.48" y1="1435.52" x2="735.98" y2="1495.02"/>
<line class="th" x1="669.76" y1="1442.23" x2="729.27" y2="1501.74"/>
</g>
<clipPath id="h8c"><path d="M852.1,1467.5 L865.5,1467.5 L865.5,1566.9 L852.1,1555 Z"/></clipPath>
<g clip-path="url(#h8c)">
<line class="th" x1="858.5" y1="1439.22" x2="936.78" y2="1517.5"/>
<line class="th" x1="852.84" y1="1444.88" x2="931.12" y2="1523.16"/>
<line class="th" x1="847.19" y1="1450.53" x2="925.47" y2="1528.81"/>
<line class="th" x1="841.53" y1="1456.19" x2="919.81" y2="1534.47"/>
<line class="th" x1="835.87" y1="1461.85" x2="914.15" y2="1540.13"/>
<line class="th" x1="830.22" y1="1467.5" x2="908.5" y2="1545.78"/>
<line class="th" x1="824.56" y1="1473.16" x2="902.84" y2="1551.44"/>
<line class="th" x1="818.9" y1="1478.82" x2="897.18" y2="1557.1"/>
<line class="th" x1="813.25" y1="1484.47" x2="891.53" y2="1562.75"/>
<line class="th" x1="807.59" y1="1490.13" x2="885.87" y2="1568.41"/>
<line class="th" x1="801.93" y1="1495.79" x2="880.21" y2="1574.07"/>
<line class="th" x1="796.27" y1="1501.44" x2="874.56" y2="1579.73"/>
<line class="th" x1="790.62" y1="1507.1" x2="868.9" y2="1585.38"/>
<line class="th" x1="784.96" y1="1512.76" x2="863.24" y2="1591.04"/>
</g>
<polyline class="o" points="693.9,1391.5 703.9,1382.7 852.1,1382.7 864,1370.6 922.9,1370.6 922.9,1566.9 865.5,1566.9 865.5,1385.5 922.9,1385.5"/>
<line class="o" x1="703.9" y1="1399.1" x2="865.5" y2="1399.1"/>
<rect class="o" x="709.3" y="1399.1" width="44.1" height="38.2"/>
<line class="o" x1="693.9" y1="1406.2" x2="709.3" y2="1406.2"/>
<line class="o" x1="693.9" y1="1429.5" x2="709.3" y2="1429.5"/>
<line class="c" x1="682.2" y1="1417.1" x2="767.8" y2="1417.1"/>
<rect class="o" x="753.4" y="1450.6" width="24.1" height="16.9"/>
<path class="h" d="M740,1467 L741.2,1455 Q742.2,1453.5 743.2,1455 L742.5,1467"/>
<path class="h" d="M744.5,1467 L745.7,1455 Q746.7,1453.5 747.7,1455 L747,1467"/>
<path class="h" d="M749,1467 L750.2,1455 Q751.2,1453.5 752.2,1455 L751.5,1467"/>
<path class="h" d="M753.5,1467 L754.7,1455 Q755.7,1453.5 756.7,1455 L756,1467"/>
<path class="h" d="M758,1467 L759.2,1455 Q760.2,1453.5 761.2,1455 L760.5,1467"/>
<path class="h" d="M762.5,1467 L763.7,1455 Q764.7,1453.5 765.7,1455 L765,1467"/>
<path class="h" d="M767,1467 L768.2,1455 Q769.2,1453.5 770.2,1455 L769.5,1467"/>
<path class="h" d="M771.5,1467 L772.7,1455 Q773.7,1453.5 774.7,1455 L774,1467"/>
<line class="o" x1="739" y1="1455" x2="753.4" y2="1455"/>
<line class="o" x1="806.7" y1="1399.1" x2="806.7" y2="1467.5"/>
<clipPath id="h8s"><path d="M806.7,1408 C808,1404 811,1404.3 813.6,1404.3 C817,1404.3 818.5,1407 819.6,1411.5 C821,1416.5 824,1417.9 828.3,1417.9 C832.5,1417.9 834.5,1416 835.6,1411.5 C837,1406 839.5,1404.3 842.9,1404.3 C846.3,1404.3 848.5,1406.5 850,1411.5 C851.5,1416 854,1417 857.5,1417 C861,1417 863.5,1414 865.5,1410 L865.5,1399.1 L806.7,1399.1 Z"/></clipPath>
<g clip-path="url(#h8s)">
<path class="h" d="M784.84,1408L836,1356.84M789.44,1412.6L840.6,1361.44M794.03,1417.19L845.19,1366.03M798.63,1421.79L849.79,1370.63M803.22,1426.38L854.38,1375.22M807.82,1430.98L858.98,1379.82M812.42,1435.58L863.58,1384.42M817.01,1440.17L868.17,1389.01M821.61,1444.77L872.77,1393.61M826.21,1449.37L877.37,1398.21M830.8,1453.96L881.96,1402.8M835.4,1458.56L886.56,1407.4"/>
</g>
<path class="o" d="M806.7,1408 C808,1404 811,1404.3 813.6,1404.3 C817,1404.3 818.5,1407 819.6,1411.5 C821,1416.5 824,1417.9 828.3,1417.9 C832.5,1417.9 834.5,1416 835.6,1411.5 C837,1406 839.5,1404.3 842.9,1404.3 C846.3,1404.3 848.5,1406.5 850,1411.5 C851.5,1416 854,1417 857.5,1417 C861,1417 863.5,1414 865.5,1410"/>
<line class="o" x1="819.7" y1="1412" x2="815.9" y2="1467.5"/>
<line class="o" x1="835.5" y1="1412" x2="830.5" y2="1467.5"/>
<line class="o" x1="850.2" y1="1412" x2="846.3" y2="1467.5"/>
<line class="o" x1="865.4" y1="1410.5" x2="860.3" y2="1467.5"/>
<line class="o" x1="693.9" y1="1467.5" x2="922.9" y2="1467.5"/>
<line class="o" x1="703.9" y1="1477.7" x2="852.1" y2="1477.7"/>
<line class="o" x1="865.5" y1="1477.7" x2="922.9" y2="1477.7"/>
<line class="o" x1="703.9" y1="1491" x2="852.1" y2="1491"/>
<line class="o" x1="865.5" y1="1491" x2="922.9" y2="1491"/>
<line class="o" x1="703.9" y1="1504.4" x2="852.1" y2="1504.4"/>
<line class="o" x1="865.5" y1="1504.4" x2="922.9" y2="1504.4"/>
<line class="o" x1="703.9" y1="1517.8" x2="852.1" y2="1517.8"/>
<line class="o" x1="865.5" y1="1517.8" x2="922.9" y2="1517.8"/>
<line class="o" x1="703.9" y1="1531.8" x2="852.1" y2="1531.8"/>
<line class="o" x1="865.5" y1="1531.8" x2="922.9" y2="1531.8"/>
<line class="o" x1="703.9" y1="1545.2" x2="852.1" y2="1545.2"/>
<line class="o" x1="865.5" y1="1545.2" x2="922.9" y2="1545.2"/>
<line class="o" x1="703.9" y1="1467.5" x2="703.9" y2="1555"/>
<line class="o" x1="693.9" y1="1546" x2="703.9" y2="1555"/>
<line class="o" x1="703.9" y1="1555" x2="852.1" y2="1555"/>
<line class="o" x1="852.1" y1="1467.5" x2="852.1" y2="1555"/>
<line class="o" x1="865.5" y1="1555" x2="922.9" y2="1555"/>
<line class="d" x1="865.5" y1="1404.4" x2="959" y2="1404.4"/>
<line class="d" x1="956.2" y1="1404.4" x2="956.2" y2="1488"/>
<polygon class="ar" points="956.2,1404.4 959.9,1424.4 952.5,1424.4"/>
<text class="t" transform="translate(951.8,1471.8) rotate(-90)" font-size="18" text-anchor="middle">E27</text>
<line class="d" x1="922.9" y1="1370.6" x2="985" y2="1370.6"/>
<line class="d" x1="922.9" y1="1566.9" x2="985" y2="1566.9"/>
<line class="d" x1="981.5" y1="1370.6" x2="981.5" y2="1566.9"/>
<polygon class="ar" points="981.5,1370.6 985.2,1391.6 977.8,1391.6"/>
<polygon class="ar" points="981.5,1566.9 977.8,1545.9 985.2,1545.9"/>
<g transform="translate(980,1472.5) rotate(-90)">
<circle class="ds" cx="-10.4" cy="-6.7" r="6.2"/>
<line class="ds" x1="-16.7" y1="0.2" x2="-4" y2="-13.4"/>
<text class="t" x="-2.42" y="0" font-size="18">40</text>
</g>
<g transform="translate(83.23,626.3) scale(0.7866,1)"><text class="lab" x="0" y="0" font-size="29.5">Ппл53-04-К52</text></g>
<g transform="translate(623.54,626.3) scale(0.7790,1)"><text class="lab" x="0" y="0" font-size="29.5">Пал27-04-К58 E27, Пал27-04-К52,</text></g>
<g transform="translate(620.3,659) scale(0.7984,1)"><text class="lab" x="0" y="0" font-size="29.5">Пал27-04-К5</text><path class="tf" d="M181.11,0 L181.11,-17.82 L176.52,-14.55 L176.52,-17 L181.32,-20.3 L183.71,-20.3 L183.71,0 Z"/></g>
<g transform="translate(82.88,929.6) scale(0.8082,1)"><text class="lab" x="0" y="0" font-size="29.5">Пкр</text><path class="tf" d="M57.93,0 L57.93,-17.82 L53.35,-14.55 L53.35,-17 L58.15,-20.3 L60.54,-20.3 L60.54,0 Z"/><text class="lab" x="66.92" y="0" font-size="29.5">5-04-К52</text></g>
<g transform="translate(620.08,929.6) scale(0.8082,1)"><text class="lab" x="0" y="0" font-size="29.5">Пкр</text><path class="tf" d="M57.93,0 L57.93,-17.82 L53.35,-14.55 L53.35,-17 L58.15,-20.3 L60.54,-20.3 L60.54,0 Z"/><text class="lab" x="66.92" y="0" font-size="29.5">0-04-К52</text></g>
<g transform="translate(83.4,1239.6) scale(0.7989,1)"><text class="lab" x="0" y="0" font-size="29.5">Ппл27-04-К3</text><path class="tf" d="M180.67,0 L180.67,-17.82 L176.09,-14.55 L176.09,-17 L180.89,-20.3 L183.28,-20.3 L183.28,0 Z"/></g>
<g transform="translate(620.1,1239.6) scale(0.8022,1)"><text class="lab" x="0" y="0" font-size="29.5">Ппл27-04-К2</text><path class="tf" d="M180.67,0 L180.67,-17.82 L176.09,-14.55 L176.09,-17 L180.89,-20.3 L183.28,-20.3 L183.28,0 Z"/></g>
<g transform="translate(82.92,1634.6) scale(0.7917,1)"><text class="lab" x="0" y="0" font-size="29.5">Пал27-04-К28, Пал27-04-К0</text><path class="tf" d="M387.59,0 L387.59,-17.82 L383.01,-14.55 L383.01,-17 L387.81,-20.3 L390.2,-20.3 L390.2,0 Z"/><text class="lab" x="396.58" y="0" font-size="29.5">,</text></g>
<g transform="translate(82.95,1667) scale(0.7745,1)"><text class="lab" x="0" y="0" font-size="29.5">Пал27-04-К0</text><path class="tf" d="M181.11,0 L181.11,-17.82 L176.52,-14.55 L176.52,-17 L181.32,-20.3 L183.71,-20.3 L183.71,0 Z"/><text class="lab" x="198.29" y="0" font-size="29.5">E27</text></g>
<g transform="translate(620.1,1634.2) scale(0.8022,1)"><text class="lab" x="0" y="0" font-size="29.5">Ппл27-04-К3</text><path class="tf" d="M180.67,0 L180.67,-17.82 L176.09,-14.55 L176.09,-17 L180.89,-20.3 L183.28,-20.3 L183.28,0 Z"/></g>
</svg>
</body></html>
